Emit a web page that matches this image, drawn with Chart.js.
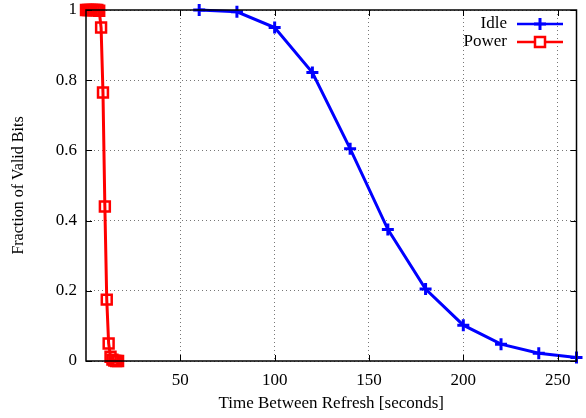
<!DOCTYPE html>
<html>
<head>
<meta charset="utf-8">
<script src="https://cdn.jsdelivr.net/npm/chart.js@4/dist/chart.umd.min.js"></script>
<style>
  html, body { margin: 0; padding: 0; background: #fff; }
  #wrap { width: 586px; height: 418px; position: relative; }
</style>
</head>
<body>
<div id="wrap"><canvas id="chart"></canvas></div>
<script>
// Refresh interval (seconds) vs fraction of bits still valid
const idleX = [60, 80, 100, 120, 140, 160, 180, 200, 220, 240, 260];
const idleY = [1.0, 0.995, 0.95, 0.822, 0.605, 0.375, 0.205, 0.102, 0.048, 0.022, 0.01];

const powerX = [0, 1, 2, 3, 4, 5, 6, 7, 8, 9, 10, 11, 12, 13, 14, 15, 16, 17];
const powerY = [1, 1, 1, 1, 1, 1, 1, 0.998, 0.95, 0.765, 0.44, 0.175, 0.05, 0.012, 0.004, 0.001, 0, 0];

const xTicks = [50, 100, 150, 200, 250];
const yTicks = [0, 0.2, 0.4, 0.6, 0.8, 1];

const FONT = '"Liberation Serif", "DejaVu Serif", serif';
const BLUE = '#0000ff';
const RED = '#ff0000';

function toPoints(xs, ys) {
    return xs.map((x, i) => ({ x: x, y: ys[i] }));
}

// gnuplot-style frame, inward ticks and a legend with text left of the sample
const gnuplotFrame = {
    id: 'gnuplotFrame',
    afterDatasetsDraw(chart) {
        const { ctx, chartArea: a, scales } = chart;
        ctx.save();
        ctx.strokeStyle = '#000';
        ctx.lineWidth = 1.5;
        ctx.setLineDash([]);
        ctx.strokeRect(a.left, a.top, a.right - a.left, a.bottom - a.top);
        ctx.lineWidth = 1;
        ctx.beginPath();
        xTicks.forEach((v) => {
            const px = Math.round(scales.x.getPixelForValue(v)) + 0.5;
            ctx.moveTo(px, a.bottom); ctx.lineTo(px, a.bottom - 6);
            ctx.moveTo(px, a.top); ctx.lineTo(px, a.top + 6);
        });
        yTicks.forEach((v) => {
            const py = Math.round(scales.y.getPixelForValue(v)) + 0.5;
            ctx.moveTo(a.left, py); ctx.lineTo(a.left + 6, py);
            ctx.moveTo(a.right, py); ctx.lineTo(a.right - 6, py);
        });
        ctx.stroke();

        // legend
        ctx.font = '17px ' + FONT;
        ctx.textAlign = 'right';
        ctx.textBaseline = 'middle';
        chart.data.datasets.forEach((ds, i) => {
            const y = 24 + i * 18;
            const x1 = 517, x2 = 563, xm = (x1 + x2) / 2;
            ctx.fillStyle = '#000';
            ctx.fillText(ds.label, 507, y);
            ctx.strokeStyle = ds.borderColor;
            ctx.lineWidth = 2.5;
            ctx.beginPath();
            ctx.moveTo(x1, y); ctx.lineTo(x2, y);
            ctx.stroke();
            if (ds.pointStyle === 'cross') {
                ctx.lineWidth = 3;
                ctx.beginPath();
                ctx.moveTo(xm, y - 6); ctx.lineTo(xm, y + 6);
                ctx.moveTo(xm - 6, y); ctx.lineTo(xm + 6, y);
                ctx.stroke();
            } else {
                ctx.lineWidth = 2.5;
                ctx.fillStyle = '#fff';
                ctx.fillRect(xm - 5, y - 5, 10, 10);
                ctx.strokeRect(xm - 5, y - 5, 10, 10);
            }
        });
        ctx.restore();
    }
};

new Chart(document.getElementById('chart'), {
    type: 'line',
    data: {
        datasets: [
            {
                label: 'Idle',
                data: toPoints(idleX, idleY),
                borderColor: BLUE,
                backgroundColor: BLUE,
                borderWidth: 3,
                pointStyle: 'cross',
                pointRadius: 6,
                pointBorderWidth: 3,
                tension: 0,
                clip: false,
            },
            {
                label: 'Power',
                data: toPoints(powerX, powerY),
                borderColor: RED,
                backgroundColor: 'rgba(255,255,255,0)',
                borderWidth: 3,
                pointStyle: 'rect',
                pointRadius: 7,
                pointBorderWidth: 2.5,
                tension: 0,
                clip: false,
            },
        ],
    },
    options: {
        responsive: true,
        maintainAspectRatio: false,
        animation: false,
        devicePixelRatio: 1,
        layout: { padding: { left: 0, right: 2, top: 10, bottom: 0 } },
        plugins: { legend: { display: false }, tooltip: { enabled: false } },
        scales: {
            x: {
                type: 'linear',
                min: 0,
                max: 260,
                afterBuildTicks: (s) => { s.ticks = xTicks.map((v) => ({ value: v })); },
                afterFit: (s) => { s.height = 57; s.paddingLeft = 0; s.paddingRight = 0; },
                ticks: { color: '#000', font: { family: FONT, size: 17 }, padding: 9, maxRotation: 0 },
                grid: { color: '#777', lineWidth: 1, drawTicks: false },
                border: { display: false, dash: [1, 3] },
                title: { display: true, text: 'Time Between Refresh [seconds]', color: '#000', font: { family: FONT, size: 17 }, padding: { top: 4, bottom: 4 } },
            },
            y: {
                min: 0,
                max: 1,
                afterBuildTicks: (s) => { s.ticks = yTicks.map((v) => ({ value: v })); },
                afterFit: (s) => { s.width = 86; s.paddingTop = 0; s.paddingBottom = 0; },
                ticks: { color: '#000', font: { family: FONT, size: 17 }, padding: 9, callback: (v) => String(v) },
                grid: { color: '#777', lineWidth: 1, drawTicks: false },
                border: { display: false, dash: [1, 3] },
                title: { display: true, text: 'Fraction of Valid Bits', color: '#000', font: { family: FONT, size: 16 }, padding: { top: 9, bottom: 0 } },
            },
        },
    },
    plugins: [gnuplotFrame],
});
</script>
</body>
</html>
